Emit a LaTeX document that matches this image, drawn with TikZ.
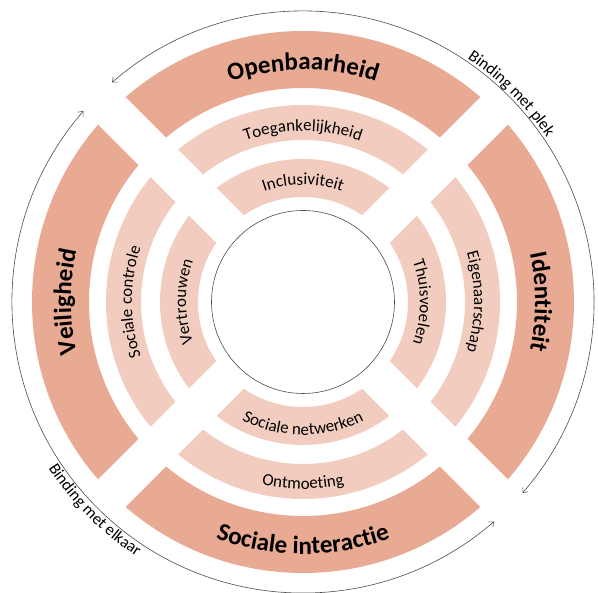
\documentclass[tikz,border=0pt]{standalone}
\usepackage{fontspec}
\setmainfont{Carlito}
\usetikzlibrary{arrows.meta}
\usetikzlibrary{decorations.text}
\definecolor{salmond}{HTML}{E9AA93}
\definecolor{salmonl}{HTML}{F2CDBF}
\newcommand{\bigtxt}{\fontsize{25}{29}\selectfont\bfseries}
\newcommand{\midtxt}{\fontsize{17}{20}\selectfont}
\newcommand{\smalltxt}{\fontsize{16.5}{19}\selectfont}
\tikzset{
    bandd/.style = {fill=salmond,even odd rule},
    bandl/.style = {fill=salmonl,even odd rule},
    ringline/.style = {draw=black!70,line width=0.6pt},
    bindarc/.style = {draw=black!70,line width=0.6pt,{Straight Barb[length=4pt,width=7pt]}-{Straight Barb[length=4pt,width=7pt]}},
    arctext/.style = {decorate,decoration={text along path,text align=center,text={#1}}}
}

\begin{document}
\begin{tikzpicture}[x=1pt,y=1pt]
\useasboundingbox (-303,-291) rectangle (295,302);
%
% top
\begin{scope}
\clip (0,27.6) -- (330,357.6) -- (-330,357.6) -- cycle;
\path[bandd] (0,0) circle (271) circle (214);
\path[bandl] (0,0) circle (197) circle (162);
\path[bandl] (0,0) circle (143) circle (105);
\end{scope}
% right
\begin{scope}[rotate=-90]
\clip (0,27.6) -- (330,357.6) -- (-330,357.6) -- cycle;
\path[bandd] (0,0) circle (271) circle (214);
\path[bandl] (0,0) circle (197) circle (162);
\path[bandl] (0,0) circle (143) circle (105);
\end{scope}
% bottom
\begin{scope}[rotate=180]
\clip (0,27.6) -- (330,357.6) -- (-330,357.6) -- cycle;
\path[bandd] (0,0) circle (271) circle (214);
\path[bandl] (0,0) circle (197) circle (162);
\path[bandl] (0,0) circle (143) circle (105);
\end{scope}
% left
\begin{scope}[rotate=90]
\clip (0,27.6) -- (330,357.6) -- (-330,357.6) -- cycle;
\path[bandd] (0,0) circle (271) circle (214);
\path[bandl] (0,0) circle (197) circle (162);
\path[bandl] (0,0) circle (143) circle (105);
\end{scope}
%
\draw[ringline] (0,0) circle (91.5);
%
\path[arctext={|\bigtxt|Openbaarheid}] (150:232) arc[start angle=150,end angle=30,radius=232];
\path[arctext={|\midtxt|Toegankelijkheid}] (150:171) arc[start angle=150,end angle=30,radius=171];
\path[arctext={|\midtxt|Inclusiviteit}] (150:117) arc[start angle=150,end angle=30,radius=117];
%
\path[arctext={|\bigtxt|Identiteit}] (60:232) arc[start angle=60,end angle=-60,radius=232];
\path[arctext={|\midtxt|Eigenaarschap}] (60:171) arc[start angle=60,end angle=-60,radius=171];
\path[arctext={|\midtxt|Thuisvoelen}] (60:117) arc[start angle=60,end angle=-60,radius=117];
%
\path[arctext={|\bigtxt|Sociale interactie}] (210:252) arc[start angle=210,end angle=330,radius=252];
\path[arctext={|\midtxt|Ontmoeting}] (210:187) arc[start angle=210,end angle=330,radius=187];
\path[arctext={|\midtxt|Sociale netwerken}] (210:133) arc[start angle=210,end angle=330,radius=133];
%
\path[arctext={|\bigtxt|Veiligheid}] (240:232) arc[start angle=240,end angle=120,radius=232];
\path[arctext={|\midtxt|Sociale controle}] (240:171) arc[start angle=240,end angle=120,radius=171];
\path[arctext={|\midtxt|Vertrouwen}] (240:117) arc[start angle=240,end angle=120,radius=117];
%
\draw[bindarc] (131:291) arc[start angle=131,end angle=-41,radius=291];
\draw[bindarc] (139:291) arc[start angle=139,end angle=311,radius=291];
\path[arctext={|\smalltxt|Binding met plek}] (105:294) arc[start angle=105,end angle=-15,radius=294];
\path[arctext={|\smalltxt|Binding met elkaar}] (165:304) arc[start angle=165,end angle=285,radius=304];

\end{tikzpicture}
\end{document}
